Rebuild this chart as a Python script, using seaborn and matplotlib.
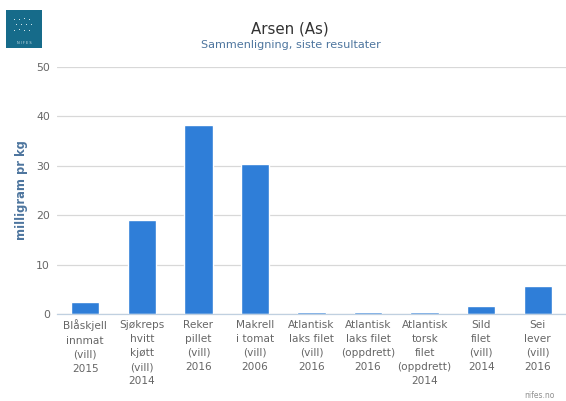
import matplotlib
matplotlib.use("Agg")
import matplotlib.pyplot as plt
import seaborn as sns
import pandas as pd
import numpy as np
from matplotlib.patches import Rectangle

categories = [
    "Blåskjell\ninnmat\n(vill)\n2015",
    "Sjøkreps\nhvitt\nkjøtt\n(vill)\n2014",
    "Reker\npillet\n(vill)\n2016",
    "Makrell\ni tomat\n(vill)\n2006",
    "Atlantisk\nlaks filet\n(vill)\n2016",
    "Atlantisk\nlaks filet\n(oppdrett)\n2016",
    "Atlantisk\ntorsk\nfilet\n(oppdrett)\n2014",
    "Sild\nfilet\n(vill)\n2014",
    "Sei\nlever\n(vill)\n2016",
]
values = [2.4, 19.1, 38.2, 30.3, 0.4, 0.4, 0.4, 1.6, 5.7]
yticks = [0, 10, 20, 30, 40, 50]

df = pd.DataFrame({"cat": categories, "val": values})

sns.set_style("white")
plt.rcParams["font.family"] = ["DejaVu Sans"]

fig = plt.figure(figsize=(5.66, 4.01), dpi=100)
ax = fig.add_axes([57/566, (401-314)/401, (566-57)/566, (314-67)/401])

sns.barplot(data=df, x="cat", y="val", color="#2f7ed8", width=0.5, ax=ax, saturation=1)

ax.set_ylim(0, 50)
ax.set_xlim(-0.5, len(categories) - 0.5)
ax.set_yticks(yticks)
ax.yaxis.grid(True, color="#d8d8d8", linewidth=0.9)
ax.set_axisbelow(True)
for s in ["top", "right", "left"]:
    ax.spines[s].set_visible(False)
ax.spines["bottom"].set_color("#c0d0e0")
ax.spines["bottom"].set_linewidth(0.9)

ax.tick_params(axis="y", length=0, labelsize=7.8, labelcolor="#666666", pad=5)
ax.tick_params(axis="x", length=0, labelsize=7.6, labelcolor="#666666", pad=4)
ax.set_xticks(range(len(categories)))
ax.set_xticklabels(categories, linespacing=1.52, va="top")
ax.set_xticks(np.arange(-0.5, len(categories), 1), minor=True)
ax.tick_params(axis="x", which="minor", length=5, color="#c0d0e0", width=0.9)

ax.set_xlabel("")
ax.set_ylabel("milligram pr kg", fontsize=8.3, fontweight="bold", color="#4d759e", labelpad=6)

fig.text(290/566, 1 - 29/401, "Arsen (As)", ha="center", va="center", fontsize=10.8, color="#333333")
fig.text(291/566, 1 - 45/401, "Sammenligning, siste resultater", ha="center", va="center", fontsize=8.1, color="#4d759e")
fig.text(555/566, 1 - 395/401, "nifes.no", ha="right", va="center", fontsize=5.5, color="#909090")

# logo
logo = Rectangle((6/566, 1 - 48/401), 36/566, 38/401, transform=fig.transFigure,
                 facecolor="#166b8a", edgecolor="none")
fig.patches.append(logo)
fig.text(24/566, 1 - 43/401, "N I F E S", ha="center", va="center", fontsize=2.5, color="#cfe3ea")
for (dx, dy) in [(14, 20), (19, 20), (24, 19), (29, 20), (16, 25), (21, 25), (26, 25), (31, 25), (14, 31), (19, 30), (24, 31), (29, 31)]:
    fig.patches.append(Rectangle((dx/566, 1 - dy/401), 1/566, 1/401, transform=fig.transFigure,
                                 facecolor="#cfe3ea", edgecolor="none"))

fig.savefig("out.png", dpi=100)
